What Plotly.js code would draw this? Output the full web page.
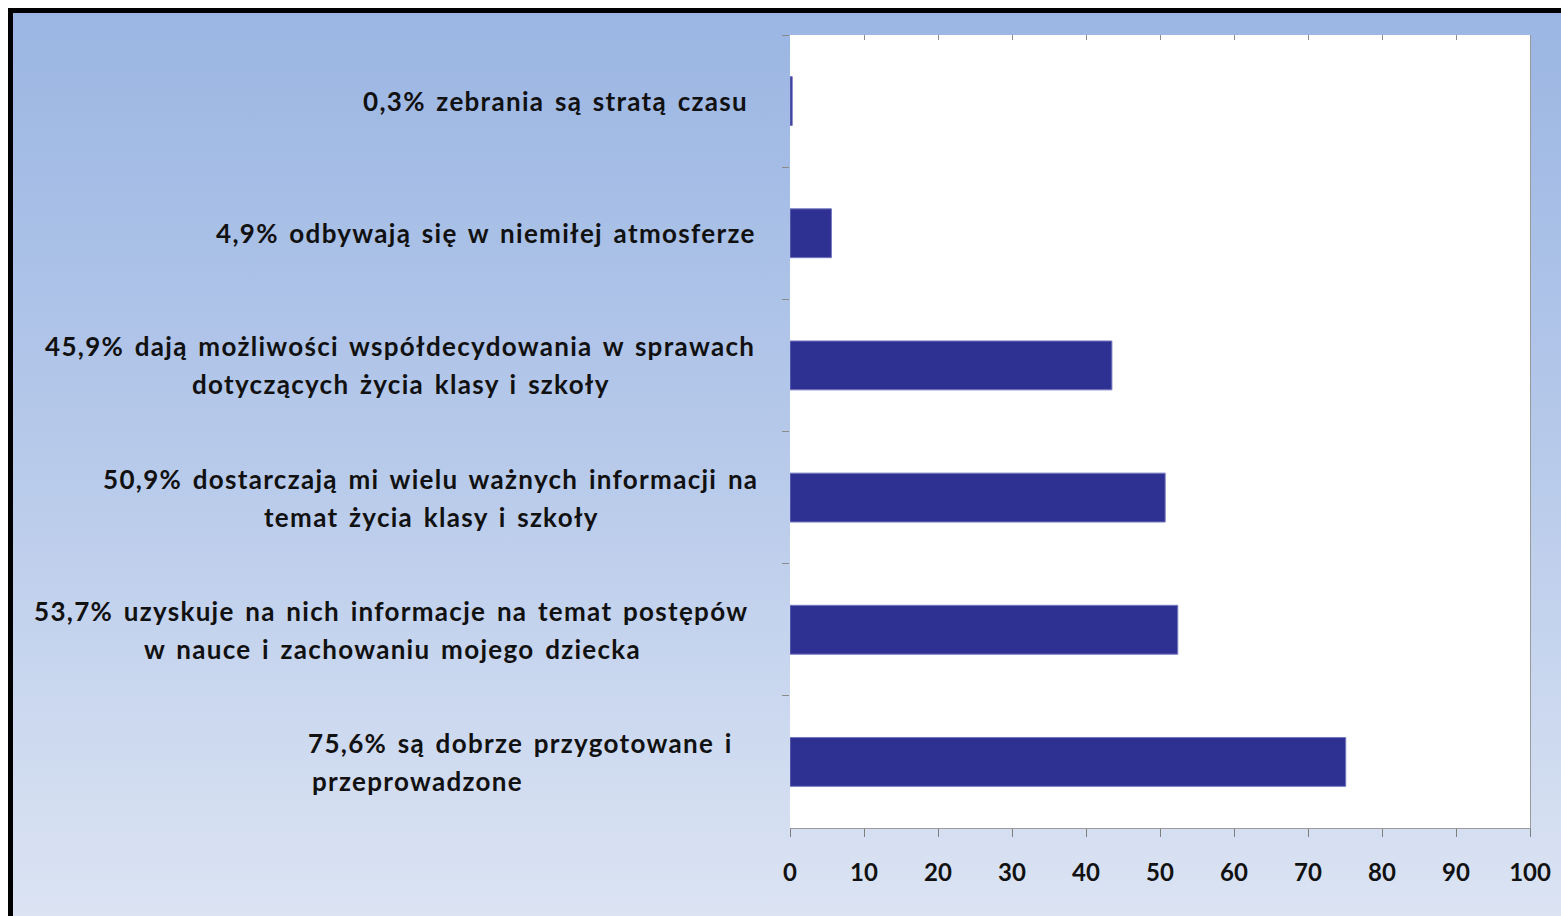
<!DOCTYPE html>
<html>
<head>
<meta charset="utf-8">
<script src="https://cdn.plot.ly/plotly-3.0.1.min.js"></script>
<style>
  html, body { margin:0; padding:0; width:1561px; height:916px; overflow:hidden; background:#ffffff; }
  #bg { position:absolute; left:8px; top:8px; width:1600px; height:960px; border:5px solid #000;
        background: linear-gradient(to bottom, #9bb6e3 0%, #b6c9ea 45%, #e0e7f4 100%); }
  #chart { position:absolute; left:0; top:0; width:1561px; height:916px; }
  .annotation-text { letter-spacing: 1.3px; word-spacing: 3px; }
</style>
</head>
<body>
<div id="bg"></div>
<div id="chart"></div>
<script>
// Categories, top to bottom as shown
const categories = [
  "0,3% zebrania są stratą czasu",
  "4,9% odbywają się w niemiłej atmosferze",
  "45,9% dają możliwości współdecydowania w sprawach<br>dotyczących życia klasy i szkoły",
  "50,9% dostarczają mi wielu ważnych informacji na<br>temat życia klasy i szkoły",
  "53,7% uzyskuje na nich informacje na temat postępów<br>w nauce i zachowaniu mojego dziecka",
  "75,6% są dobrze przygotowane i<br>przeprowadzone"
];
// Bar lengths as drawn in the picture
const values = [0.3, 5.6, 43.5, 50.7, 52.4, 75.1];
const xTicks = [0, 10, 20, 30, 40, 50, 60, 70, 80, 90, 100];
const labelAlign = ["center", "center", "center", "center", "center", "left"];
const labelShift = [-40, -32, -33, -30, -40, -55];

const FONT = "Lato, 'Open Sans', sans-serif";
const LABEL_SIZE = 26, LETTER_SP = 1.3, WORD_SP = 3, LINE_GAP = 38;

function measure(text) {
  const c = document.createElement("canvas").getContext("2d");
  c.font = "bold " + LABEL_SIZE + "px Lato, 'Open Sans', sans-serif";
  let w = c.measureText(text).width;
  w += text.length * LETTER_SP;
  w += (text.split(" ").length - 1) * WORD_SP;
  return w;
}

function build() {
  const annotations = [];
  categories.forEach((c, i) => {
    const lines = c.split("<br>");
    const n = lines.length;
    const w0 = measure(lines[0]);
    const s = labelShift[i];
    lines.forEach((ln, j) => {
      const a = {
        xref: "paper", yref: "y", x: 0, y: c,
        yanchor: "middle", yshift: (n - 1) / 2 * LINE_GAP - j * LINE_GAP,
        text: "<b>" + ln + "</b>", showarrow: false,
        font: { family: FONT, size: LABEL_SIZE, color: "#111111" }
      };
      if (j === 0) { a.xanchor = "right"; a.xshift = s; }
      else if (labelAlign[i] === "left") { a.xanchor = "left"; a.xshift = s - w0; }
      else { a.xanchor = "center"; a.xshift = s - w0 / 2; }
      annotations.push(a);
    });
  });

  const data = [
    {
      type: "bar", orientation: "h", y: categories, x: values, width: 0.37,
      marker: { color: "#2e3192", line: { color: "#7779c0", width: 1 } },
      hoverinfo: "x+y"
    },
    { type: "scatter", x: [], y: [], xaxis: "x2", yaxis: "y", showlegend: false, hoverinfo: "skip" },
    { type: "scatter", x: [], y: [], xaxis: "x", yaxis: "y2", showlegend: false, hoverinfo: "skip" }
  ];

  const layout = {
    width: 1561, height: 916,
    paper_bgcolor: "rgba(0,0,0,0)",
    plot_bgcolor: "#ffffff",
    margin: { l: 790, r: 31, t: 35, b: 88 },
    showlegend: false,
    xaxis: {
      range: [0, 100], tickvals: xTicks, ticktext: xTicks.map(v => "<b>" + v + "</b>"),
      ticks: "outside", ticklen: 8, tickcolor: "#808080", tickwidth: 1,
      showline: true, linecolor: "#9a9a9a", linewidth: 1,
      showgrid: false, zeroline: false, ticklabelstandoff: 15,
      tickfont: { family: FONT, size: 24, color: "#111111" },
      fixedrange: true
    },
    xaxis2: {
      overlaying: "x", side: "top", range: [0, 100], tickvals: xTicks,
      ticks: "inside", ticklen: 5, tickcolor: "#8a8a8a", showticklabels: false,
      showgrid: false, zeroline: false, showline: false
    },
    yaxis: {
      type: "category", categoryarray: categories, categoryorder: "array",
      autorange: "reversed", tickson: "boundaries",
      ticks: "outside", ticklen: 7, tickcolor: "#8a8a8a",
      showticklabels: false, showgrid: false, zeroline: false, showline: false
    },
    yaxis2: {
      overlaying: "y", side: "right", range: [0, 1], showticklabels: false,
      ticks: "", showgrid: false, zeroline: false, showline: true, linecolor: "#9a9a9a", linewidth: 1
    },
    annotations: annotations
  };

  Plotly.newPlot("chart", data, layout, { displayModeBar: false, staticPlot: true });
}

if (document.fonts && document.fonts.load) {
  document.fonts.load("bold 26px Lato").then(build, build);
} else {
  build();
}
</script>
</body>
</html>
